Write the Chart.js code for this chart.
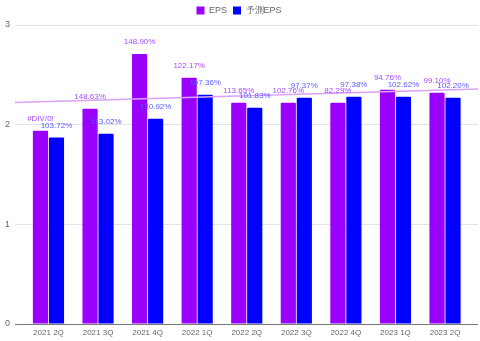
<!DOCTYPE html>
<html><head><meta charset="utf-8">
<script src="https://cdn.jsdelivr.net/npm/chart.js@4/dist/chart.umd.min.js"></script>
<style>html,body{margin:0;padding:0;background:#fff}#wrap{width:480px;height:341px}</style>
</head><body><div id="wrap"><canvas id="c"></canvas></div>
<script>
const categories = ['2021 2Q','2021 3Q','2021 4Q','2022 1Q','2022 2Q','2022 3Q','2022 4Q','2023 1Q','2023 2Q'];
const epsValues = [1.94, 2.16, 2.71, 2.47, 2.22, 2.22, 2.22, 2.35, 2.32];
const forecastValues = [1.87, 1.91, 2.06, 2.30, 2.17, 2.27, 2.28, 2.28, 2.27];
const epsLabels = ['#DIV/0!','148.63%','148.90%','122.17%','113.65%','102.76%','82.29%','94.76%','99.10%'];
const forecastLabels = ['103.72%','113.02%','130.92%','107.36%','101.83%','97.37%','97.38%','102.62%','102.20%'];
const yTicks = [0, 1, 2, 3];

const xMin = -0.675, xMax = 8.665;
// linear trendline of EPS
const n = epsValues.length;
const mx = (n - 1) / 2;
const my = epsValues.reduce((a, b) => a + b, 0) / n;
let sxy = 0, sxx = 0;
epsValues.forEach((v, i) => { sxy += (i - mx) * (v - my); sxx += (i - mx) * (i - mx); });
const slope = sxy / sxx;
const trend = [xMin, xMax].map(x => ({x: x, y: my + slope * (x - mx)}));

const labelPlugin = {
  id: 'barLabels',
  afterDatasetsDraw(chart) {
    const ctx = chart.ctx;
    ctx.save();
    ctx.font = '8px "Liberation Sans", Arial, sans-serif';
    ctx.textAlign = 'center';
    ctx.textBaseline = 'middle';
    const sets = [[0, epsLabels, '#a64dff'], [1, forecastLabels, '#5a5aff']];
    sets.forEach(([di, labels, col]) => {
      const meta = chart.getDatasetMeta(di);
      ctx.fillStyle = col;
      meta.data.forEach((bar, i) => {
        ctx.fillText(labels[i], bar.x, bar.y - 12);
      });
    });
    ctx.restore();
  }
};

new Chart(document.getElementById('c'), {
  data: {
    datasets: [
      { type: 'bar', label: 'EPS', data: epsValues.map((v, i) => ({x: i, y: v})),
        backgroundColor: '#9900ff', borderWidth: 0, borderRadius: 1,
        categoryPercentage: 0.645, barPercentage: 0.95, order: 2 },
      { type: 'bar', label: '予測EPS', data: forecastValues.map((v, i) => ({x: i, y: v})),
        backgroundColor: '#0000ff', borderWidth: 0, borderRadius: 1,
        categoryPercentage: 0.645, barPercentage: 0.95, order: 2 },
      { type: 'line', label: 'trend', data: trend, borderColor: '#d9a3f7', borderWidth: 1.5,
        pointRadius: 0, fill: false, order: 1 }
    ]
  },
  options: {
    responsive: true, maintainAspectRatio: false, animation: false,
    layout: { padding: { left: 0, right: 2, top: 0, bottom: 0 } },
    plugins: {
      tooltip: { enabled: false },
      legend: {
        position: 'top',
        labels: {
          filter: item => item.text !== 'trend',
          boxWidth: 8, boxHeight: 8, padding: 6,
          color: '#666', font: { size: 9, family: '"Liberation Sans", Arial, sans-serif' }
        }
      }
    },
    scales: {
      x: {
        type: 'linear', min: xMin, max: xMax, offset: false,
        grid: { display: false, drawTicks: false }, border: { display: false },
        afterBuildTicks: axis => { axis.ticks = categories.map((c, i) => ({value: i})); },
        afterFit: s => { s.height = 17; },
        ticks: { autoSkip: false, maxRotation: 0, padding: 4, color: '#666',
          font: { size: 8, family: '"Liberation Sans", Arial, sans-serif' },
          callback: v => categories[v] }
      },
      y: {
        min: 0, max: 3,
        afterBuildTicks: axis => { axis.ticks = yTicks.map(v => ({value: v})); },
        afterFit: s => { s.width = 15; },
        border: { display: false },
        grid: { color: c => c.tick && c.tick.value === 0 ? '#777' : '#e3e3e3', drawTicks: false, lineWidth: 1 },
        ticks: { color: '#666', padding: 5, font: { size: 9, family: '"Liberation Sans", Arial, sans-serif' } }
      }
    }
  },
  plugins: [labelPlugin]
});
</script></body></html>
